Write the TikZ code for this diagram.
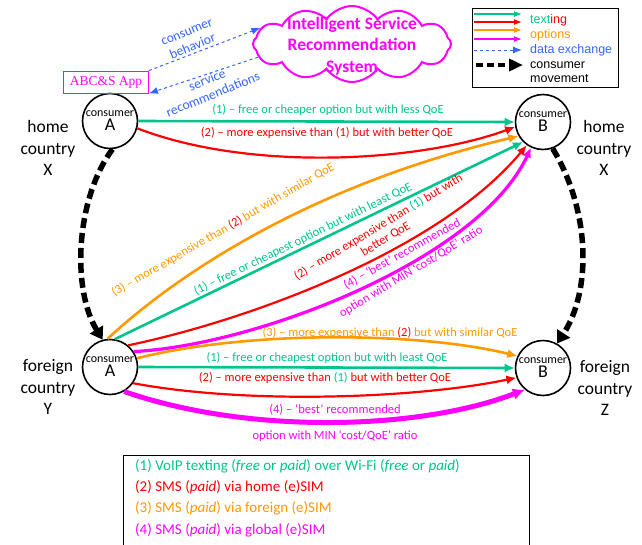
\documentclass[tikz,border=0pt]{standalone}
\usepackage{fontspec}
\setmainfont{Carlito}
\newfontfamily\legfont{Liberation Sans}
\newfontfamily\appfont{Liberation Serif}
\usetikzlibrary{arrows.meta,shapes.symbols}
\definecolor{cteal}{RGB}{0,196,140}
\definecolor{cred}{RGB}{255,0,0}
\definecolor{corange}{RGB}{255,153,0}
\definecolor{cmag}{RGB}{255,0,255}
\definecolor{cblue}{RGB}{51,102,255}
\begin{document}
\begin{tikzpicture}[x=1pt, y=-1pt, >={Latex[length=10pt,width=9pt]},
    consumer/.style={circle, draw, line width=1.6pt, minimum size=55pt, inner sep=0pt, align=center},
    country/.style={align=center, font=\fontsize{17.5}{21.5}\selectfont},
    lbl/.style={font=\fontsize{12.5}{14}\selectfont, inner sep=0pt, align=center},
    tealln/.style={draw=cteal, line width=2.6pt},
    redln/.style={draw=cred, line width=2.2pt},
    orgln/.style={draw=corange, line width=2.6pt},
    magln/.style={draw=cmag, line width=3.2pt},
    move/.style={line width=5.5pt, dash pattern=on 10pt off 5pt, -{Triangle[length=12pt,width=15pt]}},
    datax/.style={draw=cblue, line width=1pt, dashed, -{Latex[length=9pt,width=7pt]}}
]
\useasboundingbox (0,0) rectangle (642,544);

% Consumers
\node[consumer] (hA) at (110,121) {\fontsize{12}{12}\selectfont consumer\\[2pt]\fontsize{18}{18}\selectfont A};
\node[consumer] (hB) at (543,122) {\fontsize{12}{12}\selectfont consumer\\[2pt]\fontsize{18}{18}\selectfont B};
\node[consumer] (fA) at (110,367) {\fontsize{12}{12}\selectfont consumer\\[2pt]\fontsize{18}{18}\selectfont A};
\node[consumer] (fB) at (543,368) {\fontsize{12}{12}\selectfont consumer\\[2pt]\fontsize{18}{18}\selectfont B};

% Countries
\node[country] (ctyX) at (48,148) {home\\country\\X};
\node[country] (ctyXr) at (604,148) {home\\country\\X};
\node[country] (ctyY) at (48,387) {foreign\\country\\Y};
\node[country] (ctyZ) at (605,388) {foreign\\country\\Z};

% App and recommendation system
\node[draw=cmag, line width=0.8pt, text=cmag, font=\appfont\fontsize{13.5}{13.5}\selectfont, minimum width=85pt, minimum height=22pt, inner sep=2pt] (app) at (106,82) {ABC\&S App};
\node[cloud, draw=cmag, line width=2pt, cloud puffs=12, cloud puff arc=110, aspect=2.5, minimum width=198pt, minimum height=76pt] (isrs) at (352,44) {};
\node[text=cmag, font=\bfseries\fontsize{17.5}{21.5}\selectfont, align=center] (isrstxt) at (352,46) {Intelligent Service\\Recommendation\\System};
\draw[datax] (app.north east) -- (isrs.170);
\draw[datax] (isrs.188) -- (app.south east);
\node[lbl, font=\fontsize{13.5}{15.5}\selectfont, text=cblue, rotate=22] (behv) at (190,40) {consumer\\behavior};
\node[lbl, font=\fontsize{13.5}{15.5}\selectfont, text=cblue, rotate=22] (recs) at (210,87) {service\\recommendations};

% Home country X to home country X
\draw[tealln, ->] (hA.east) -- (hB.west);
\node[lbl, text=cteal] (t1) at (328,110) {(1) -- free or cheaper option but with less QoE};
\draw[redln, ->] (hA.-15) .. controls (250,172) and (420,162) .. (hB.190);
\node[lbl, text=cred] (t2) at (327,133) {(2) -- more expensive than (1) but with better QoE};

% Foreign country Y to home country X
\draw[orgln, ->] (fA.95) .. controls (160,290) and (290,190) .. (hB.210);
\node[lbl, text=corange, rotate=30] (d3) at (223,230) {(3) -- more expensive than \textcolor{cred}{(2)} but with similar QoE};
\draw[tealln, ->] (fA.80) -- (hB.225);
\node[lbl, text=cteal, rotate=26] (d1) at (303,239) {(1) -- free or cheapest option but with least QoE};
\draw[redln, ->] (fA.50) .. controls (250,320) and (440,250) .. (hB.235);
\node[lbl, text=cred, rotate=31] (d2) at (382,233) {(2) -- more expensive than \textcolor{cteal}{(1)} but with\\better QoE};
\draw[magln, ->] (fA.33) .. controls (260,345) and (480,258) .. (hB.245);
\node[lbl, text=cmag, rotate=29] (d4) at (402,254) {(4) -- ‘best’ recommended};
\node[lbl, text=cmag, rotate=31] (d4b) at (411,272) {option with MIN ‘cost/QoE’ ratio};

% Foreign country Y to foreign country Z
\draw[orgln, ->] (fA.18) .. controls (250,330) and (420,332) .. (fB.155);
\node[lbl, text=corange] (b3) at (390,333) {(3) -- more expensive than \textcolor{cred}{(2)} but with similar QoE};
\draw[tealln, ->] (fA.east) -- (fB.west);
\node[lbl, text=cteal] (b1) at (327,358) {(1) -- free or cheapest option but with least QoE};
\draw[redln, ->] (fA.-35) .. controls (250,405) and (420,398) .. (fB.200);
\node[lbl, text=cred] (b2) at (325,378) {(2) -- more expensive than \textcolor{cteal}{(1)} but with better QoE};
\draw[magln, line width=5pt, -{Latex[length=12pt,width=12pt]}] (fA.-60) .. controls (250,435) and (420,430) .. (fB.230);
\node[lbl, text=cmag] (b4) at (335,410) {(4) -- ‘best’ recommended};
\node[lbl, text=cmag] (b4b) at (335,436) {option with MIN ‘cost/QoE’ ratio};

% Consumer movement
\draw[move] (hA.275) .. controls (75,200) and (72,290) .. (fA.105);
\draw[move] (hB.290) .. controls (590,210) and (592,290) .. (fB.60);

% Legend
\draw[line width=1pt] (472,8) rectangle (618,87);
\draw[draw=cteal, line width=1.2pt, -{Latex[length=8pt,width=6pt]}] (474,14) -- (522,14);
\draw[draw=cred, line width=1.2pt, -{Latex[length=8pt,width=6pt]}] (474,22) -- (522,22);
\draw[draw=corange, line width=1.2pt, -{Latex[length=8pt,width=6pt]}] (474,30) -- (522,30);
\draw[draw=cmag, line width=1.2pt, -{Latex[length=8pt,width=6pt]}] (474,39) -- (522,39);
\draw[datax] (474,50) -- (522,50);
\draw[line width=4pt, dash pattern=on 7pt off 4pt, -{Triangle[length=14pt,width=12pt]}] (476,65) -- (523,65);
\begin{scope}[every node/.style={anchor=west, inner sep=0pt, font=\legfont\fontsize{12.5}{14}\selectfont}]
  \node (lgtx) at (530,20) {\textcolor{cteal}{text}\textcolor{cred}{ing}};
  \node[text=corange] (lgop) at (530,35) {options};
  \node[text=cblue] (lgdx) at (530,50) {data exchange};
  \node[align=left] (lgmv) at (530,72) {consumer\\movement};
\end{scope}

% Texting options
\node[anchor=north west, align=left, inner xsep=12pt, inner ysep=4pt, font=\fontsize{15}{21.3}\selectfont] (opts) at (123,455) {%
  \textcolor{cteal}{(1) VoIP texting (\textit{free} or \textit{paid}) over Wi-Fi (\textit{free} or \textit{paid})}\\
  \textcolor{cred}{(2) SMS (\textit{paid}) via home (e)SIM}\\
  \textcolor{corange}{(3) SMS (\textit{paid}) via foreign (e)SIM}\\
  \textcolor{cmag}{(4) SMS (\textit{paid}) via global (e)SIM}};
\draw[line width=0.8pt] (opts.north west) -- (opts.north west -| 529,0) -- (529,550);
\draw[line width=0.8pt] (opts.north west) -- (123,550);
\end{tikzpicture}
\end{document}
